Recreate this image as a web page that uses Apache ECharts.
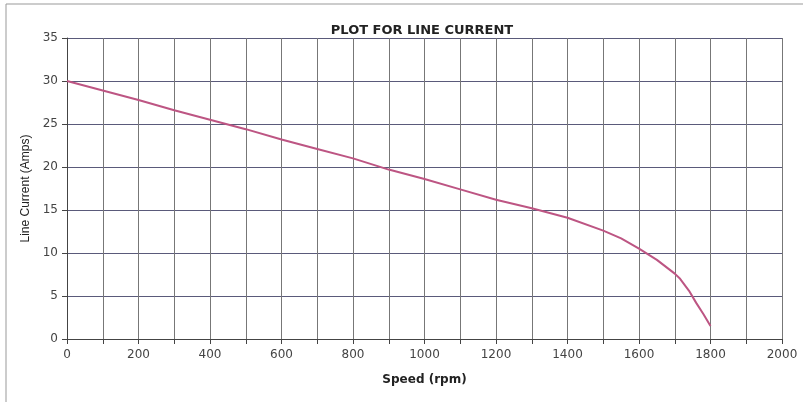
<!DOCTYPE html>
<html>
<head>
<meta charset="utf-8">
<script src="https://cdn.jsdelivr.net/npm/echarts@6/dist/echarts.min.js"></script>
<style>
  html, body { margin: 0; padding: 0; background: #fff; }
  #chart { width: 803px; height: 402px; }
</style>
</head>
<body>
<div id="chart"></div>
<script>
// speed (rpm) and line current (A)
const speed = [0, 100, 200, 300, 400, 500, 600, 700, 800, 900, 1000, 1100, 1200, 1300, 1400, 1500, 1550, 1600, 1650, 1700, 1715, 1740, 1760, 1780, 1800];
const current = [30, 28.9, 27.8, 26.6, 25.5, 24.4, 23.2, 22.1, 21.0, 19.7, 18.6, 17.4, 16.2, 15.2, 14.1, 12.6, 11.7, 10.5, 9.2, 7.6, 7.0, 5.6, 4.2, 2.9, 1.5];
const yTicks = [0, 5, 10, 15, 20, 25, 30, 35];

const chart = echarts.init(document.getElementById('chart'));

const option = {
  backgroundColor: '#fff',
  animation: false,
  title: {
    text: 'PLOT FOR LINE CURRENT',
    left: 417,
    top: 19,
    textAlign: 'center',
    textStyle: { fontFamily: 'DejaVu Sans', fontSize: 13, fontWeight: 'bold', color: '#222' },
  },
  graphic: [{
    type: 'rect',
    shape: { x: 6, y: 4, width: 820, height: 420 },
    style: { fill: 'none', stroke: '#999', lineWidth: 1 },
  }],
  grid: { left: 67, right: 21, top: 38, bottom: 63 },
  xAxis: {
    type: 'value',
    min: 0,
    max: 2000,
    interval: 100,
    name: 'Speed (rpm)',
    nameLocation: 'middle',
    nameGap: 35,
    nameTextStyle: { fontFamily: 'DejaVu Sans', fontSize: 12, fontWeight: 'bold', color: '#222' },
    axisLine: { lineStyle: { color: '#444' } },
    axisTick: { show: true, lineStyle: { color: '#444' } },
    axisLabel: {
      fontFamily: 'DejaVu Sans', fontSize: 12, color: '#444', margin: 10,
      formatter: v => (v % 200 === 0 ? String(v) : ''),
    },
    splitLine: { show: true, lineStyle: { color: '#777', width: 1 } },
  },
  yAxis: {
    type: 'value',
    min: yTicks[0],
    max: yTicks[yTicks.length - 1],
    interval: 5,
    name: 'Line Current (Amps)',
    nameLocation: 'middle',
    nameGap: 32,
    nameTextStyle: { fontFamily: 'Liberation Sans Narrow, Liberation Sans', fontSize: 12, color: '#222' },
    axisLine: { show: true, lineStyle: { color: '#444' } },
    axisTick: { show: true, lineStyle: { color: '#444' } },
    axisLabel: { fontFamily: 'DejaVu Sans', fontSize: 12, color: '#444', margin: 9 },
    splitLine: { show: true, lineStyle: { color: '#5a5a7a', width: 1 } },
  },
  series: [{
    type: 'line',
    data: speed.map((s, i) => [s, current[i]]),
    showSymbol: false,
    lineStyle: { color: '#bd5583', width: 2 },
  }],
};

chart.setOption(option);
</script>
</body>
</html>
